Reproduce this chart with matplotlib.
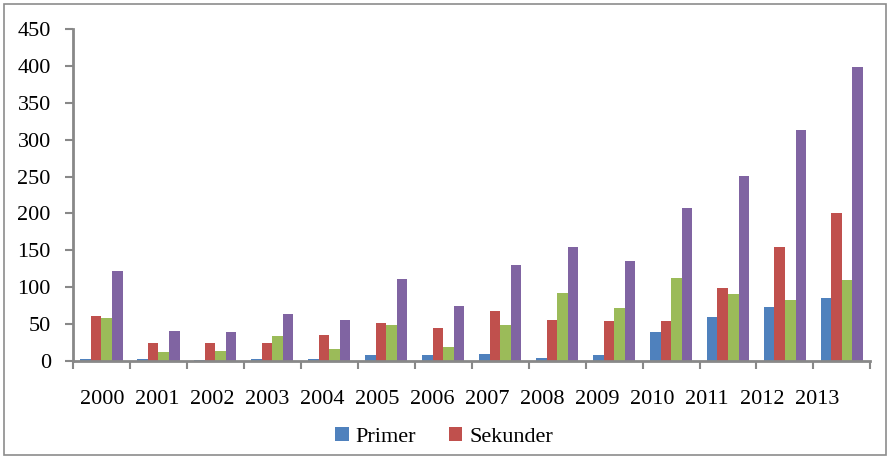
"""Grafik batang tahunan: Primer, Sekunder dan dua seri lain, 2000-2013."""

import matplotlib

matplotlib.use("Agg")
import matplotlib.pyplot as plt
import numpy as np
from matplotlib.patches import Rectangle

years = ["2000", "2001", "2002", "2003", "2004", "2005", "2006",
         "2007", "2008", "2009", "2010", "2011", "2012", "2013"]
primer = [3, 3, 2, 3, 3, 8, 8, 10, 4, 8, 40, 60, 73, 86]
sekunder = [61, 25, 24, 25, 35, 52, 45, 68, 56, 54, 54, 99, 155, 201]
seri3 = [58, 12, 14, 34, 16, 49, 19, 49, 92, 72, 112, 91, 83, 110]
seri4 = [122, 41, 40, 64, 56, 111, 74, 130, 155, 136, 208, 251, 313, 398]

colors = ["#4F81BD", "#C0504D", "#9BBB59", "#8064A2"]

plt.rcParams["font.family"] = ["Liberation Serif", "DejaVu Serif"]

fig = plt.figure(figsize=(8.88, 4.57), dpi=100)
ax = fig.add_axes([0.0822, 0.21, 0.898, 0.7265])

x = np.arange(len(years))
width = 0.185
series = [primer, sekunder, seri3, seri4]
bars = []
for i, (vals, c) in enumerate(zip(series, colors)):
    b = ax.bar(x + (i - 1.5) * width, vals, width, color=c, linewidth=0)
    bars.append(b)

ax.set_xlim(-0.5, len(years) - 0.5)
ax.set_ylim(0, 450)
ax.set_yticks(range(0, 451, 50))

# tanda sumbu x di batas kategori, label tahun sedikit bergeser seperti aslinya
ax.set_xticks(np.arange(-0.5, len(years)), minor=True)
ax.set_xticks((0.5 + 55 * x) / 57 + 0.01, years)
ax.tick_params(axis="x", which="major", length=0, pad=21, labelsize=16)
ax.tick_params(axis="x", which="minor", length=6, width=1.5, color="#888888")
ax.tick_params(axis="y", length=6, width=1.5, color="#888888", labelsize=16, pad=10)

for side in ["top", "right"]:
    ax.spines[side].set_visible(False)
for side in ["left", "bottom"]:
    ax.spines[side].set_color("#888888")
    ax.spines[side].set_linewidth(2)

fig.legend([bars[0], bars[1]], ["Primer", "Sekunder"], loc="center",
           bbox_to_anchor=(0.5, 0.044), ncol=2, frameon=False, fontsize=16,
           handlelength=0.6, handleheight=0.6, handletextpad=0.3,
           columnspacing=1.5)

fig.patches.append(Rectangle((0.005, 0.004), 0.993, 0.988, transform=fig.transFigure,
                             fill=False, edgecolor="#8c8c8c", linewidth=1.2))

fig.savefig("out.png", dpi=100)
